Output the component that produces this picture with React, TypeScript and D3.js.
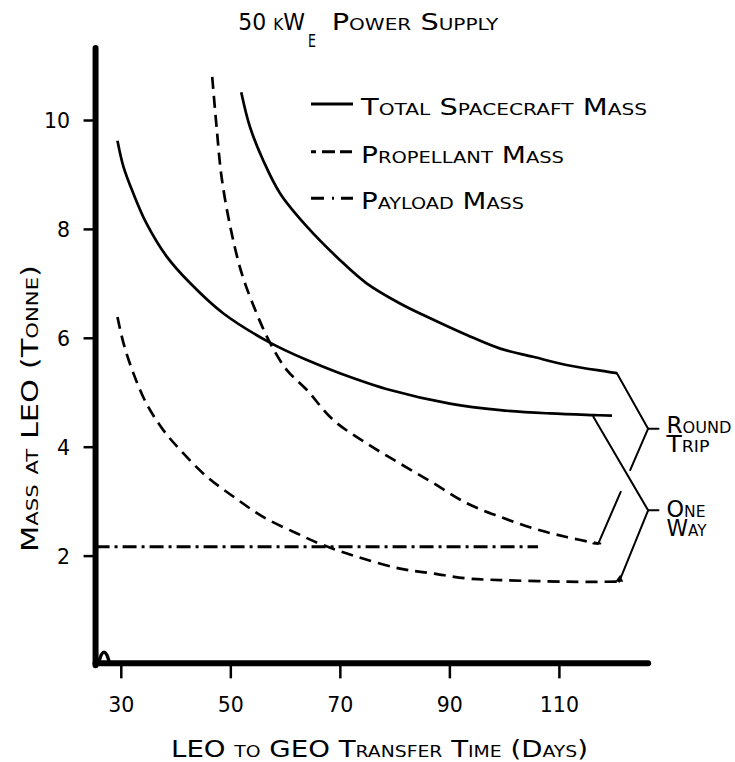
import { useRef, useEffect } from "react";
import * as d3 from "d3";

const W = 735;
const H = 762;

// one way trip (lower pair of curves)
const oneWayTotalDays = [29.3, 30.4, 32.2, 34.6, 38.3, 42.6, 48.6, 56.8, 63.9, 69.9, 79.1, 90.0, 99.2, 108.3, 116.2, 119.6];
const oneWayTotalMass = [9.63, 9.15, 8.66, 8.11, 7.5, 7.01, 6.46, 5.94, 5.6, 5.36, 5.05, 4.8, 4.68, 4.62, 4.59, 4.58];
const oneWayPropDays = [29.3, 30.4, 32.2, 34.6, 37.7, 41.3, 45.6, 50.5, 55.9, 62.0, 66.9, 73.0, 80.9, 87.0, 93.1, 99.2, 111.3, 121.1];
const oneWayPropMass = [6.39, 5.91, 5.36, 4.8, 4.31, 3.89, 3.46, 3.09, 2.72, 2.42, 2.2, 1.99, 1.77, 1.68, 1.59, 1.56, 1.53, 1.53];

// round trip
const roundTripTotalDays = [51.9, 53.5, 55.9, 59.0, 63.9, 69.9, 74.8, 80.9, 87.0, 93.1, 99.2, 105.2, 111.3, 120.5];
const roundTripTotalMass = [10.52, 9.88, 9.27, 8.66, 8.05, 7.44, 7.01, 6.64, 6.34, 6.06, 5.81, 5.66, 5.51, 5.36];
const roundTripPropDays = [46.6, 47.4, 48.3, 49.9, 52.0, 54.7, 57.2, 60.2, 63.9, 68.7, 74.8, 80.9, 87.0, 93.1, 99.2, 105.2, 111.3, 117.1];
const roundTripPropMass = [10.8, 9.88, 8.97, 8.05, 7.19, 6.46, 5.91, 5.42, 5.05, 4.5, 4.07, 3.7, 3.34, 2.97, 2.72, 2.51, 2.35, 2.23];

// payload (same for both)
const payloadDays = [25.3, 106.1];
const payloadMass = [2.17, 2.17];

const xTicks = [30, 50, 70, 90, 110];
const yTicks = [2, 4, 6, 8, 10];

const legendLabels = ["Total Spacecraft Mass", "Propellant Mass", "Payload Mass"];
const bracketLabels = [["Round", "Trip"], ["One", "Way"]];

export default function App() {
    const svgRef = useRef<SVGSVGElement>(null);

    useEffect(() => {
        const svg = d3.select(svgRef.current as SVGSVGElement);
        svg.selectAll("*").remove();

        const x = d3.scaleLinear().domain([30, 110]).range([121.3, 559.4]);
        const y = d3.scaleLinear().domain([0, 10]).range([665, 120.5]);
        const font = "'DejaVu Sans', sans-serif";

        const label = (s: string, px: number, py: number, size: number, len?: number, anchor = "start") => {
            const t = svg.append("text")
                .attr("x", px)
                .attr("y", py)
                .attr("font-family", font)
                .attr("font-size", size)
                .attr("text-anchor", anchor)
                .style("font-variant", "small-caps")
                .attr("fill", "#000")
                .text(s);
            if (len) t.attr("textLength", len).attr("lengthAdjust", "spacingAndGlyphs");
            return t;
        };

        // axes
        const ax = x(25.3);
        const ay = y(0.03);
        const top = y(11.33);
        const right = x(126.2);
        svg.append("line").attr("x1", ax).attr("x2", ax).attr("y1", top).attr("y2", ay + 2)
            .attr("stroke", "#000").attr("stroke-width", 6).attr("stroke-linecap", "round");
        svg.append("line").attr("x1", ax).attr("x2", right).attr("y1", ay).attr("y2", ay)
            .attr("stroke", "#000").attr("stroke-width", 6).attr("stroke-linecap", "round");
        // little wiggle near the origin
        svg.append("path")
            .attr("d", `M${ax + 3},${ay} Q${ax + 8.5},${ay - 22} ${ax + 14},${ay}`)
            .attr("fill", "none").attr("stroke", "#000").attr("stroke-width", 3.5);

        xTicks.forEach(v => {
            svg.append("line").attr("x1", x(v)).attr("x2", x(v)).attr("y1", ay).attr("y2", ay + 15)
                .attr("stroke", "#000").attr("stroke-width", 2.5);
            label(String(v), x(v), 711.5, 20.5, undefined, "middle");
        });
        yTicks.forEach(v => {
            svg.append("line").attr("x1", ax - 12).attr("x2", ax).attr("y1", y(v)).attr("y2", y(v))
                .attr("stroke", "#000").attr("stroke-width", 2.5);
            label(String(v), 70, y(v) + 7.5, 20.5, undefined, "end");
        });

        // axis titles
        label("LEO to GEO Transfer Time (Days)", 171, 756.7, 23.5, 417);
        label("Mass at LEO (Tonne)", 0, 0, 23, 287)
            .attr("transform", "translate(38.3,552) rotate(-90)");

        // title
        label("50 kW", 238.3, 30, 23, 66.7);
        label("E", 308, 46.7, 18.3, 8);
        label("Power Supply", 331.7, 30, 23, 166.6);

        // curves
        const line = d3.line<[number, number]>()
            .x(d => x(d[0]))
            .y(d => y(d[1]))
            .curve(d3.curveCatmullRom.alpha(0.5));
        const series: { days: number[]; mass: number[]; dash: string | null }[] = [
            { days: oneWayTotalDays, mass: oneWayTotalMass, dash: null },
            { days: roundTripTotalDays, mass: roundTripTotalMass, dash: null },
            { days: oneWayPropDays, mass: oneWayPropMass, dash: "12,7" },
            { days: roundTripPropDays, mass: roundTripPropMass, dash: "12,7" },
            { days: payloadDays, mass: payloadMass, dash: "14,5,3,5" },
        ];
        series.forEach(s => {
            const pts = s.days.map((d, i) => [d, s.mass[i]] as [number, number]);
            svg.append("path")
                .attr("d", line(pts) as string)
                .attr("fill", "none")
                .attr("stroke", "#000")
                .attr("stroke-width", s.dash === "14,5,3,5" ? 3 : 2.7)
                .attr("stroke-dasharray", s.dash);
        });

        // legend
        const legendY = [104, 151.7, 198.3];
        const legendDash = [null, "5,6,13,5,12", "13,8,2,7,12"];
        const legendLen = [286, 203, 163];
        legendLabels.forEach((s, i) => {
            svg.append("line").attr("x1", 311).attr("x2", 353).attr("y1", legendY[i]).attr("y2", legendY[i])
                .attr("stroke", "#000").attr("stroke-width", 3)
                .attr("stroke-dasharray", legendDash[i]);
            label(s, 361, legendY[i] + 11, 23, legendLen[i]);
        });

        // brackets
        const rtTop: [number, number] = [x(roundTripTotalDays[roundTripTotalDays.length - 1]), y(roundTripTotalMass[roundTripTotalMass.length - 1])];
        const rtV: [number, number] = [x(126.2), y(4.34)];
        const rtBot: [number, number] = [x(roundTripPropDays[roundTripPropDays.length - 1]), y(roundTripPropMass[roundTripPropMass.length - 1])];
        const owTop: [number, number] = [x(116.2), y(4.56)];
        const owV: [number, number] = [x(126.2), y(2.84)];
        const owBot: [number, number] = [x(oneWayPropDays[oneWayPropDays.length - 1]) - 1, y(oneWayPropMass[oneWayPropMass.length - 1])];
        const seg = (a: [number, number], b: [number, number]) =>
            svg.append("line").attr("x1", a[0]).attr("y1", a[1]).attr("x2", b[0]).attr("y2", b[1])
                .attr("stroke", "#000").attr("stroke-width", 2).attr("stroke-linecap", "round");
        const lerp = (a: [number, number], b: [number, number], t: number): [number, number] =>
            [a[0] + (b[0] - a[0]) * t, a[1] + (b[1] - a[1]) * t];

        seg(rtTop, rtV);
        seg(rtV, lerp(rtV, rtBot, 0.36));
        seg(lerp(rtV, rtBot, 0.55), rtBot);
        seg(rtV, [x(128.1), rtV[1]]);
        seg(owTop, owV);
        seg(owV, owBot);
        seg(owV, [x(128.1), owV[1]]);
        svg.append("path")
            .attr("d", `M${owBot[0] - 4},${owBot[1]} L${owBot[0] + 4},${owBot[1]} L${owBot[0] + 1},${owBot[1] - 7}Z`)
            .attr("fill", "#000");
        seg([rtBot[0] - 5, rtBot[1]], [rtBot[0] + 2, rtBot[1]]);

        // two-line bracket labels, one text element each
        const bracketY = [433.3, 516.7];
        const bracketLen = [[65, 43], [39, 40]];
        bracketLabels.forEach((lines, i) => {
            const t = svg.append("text")
                .attr("font-family", font)
                .attr("font-size", 23)
                .style("font-variant", "small-caps")
                .attr("fill", "#000");
            lines.forEach((s, j) => {
                t.append("tspan")
                    .attr("x", 666.5)
                    .attr("y", bracketY[i] + j * 19)
                    .attr("textLength", bracketLen[i][j])
                    .attr("lengthAdjust", "spacingAndGlyphs")
                    .text(s);
            });
        });
    }, []);

    return (
        <svg ref={svgRef} width={W} height={H}
            style={{ display: "block", position: "absolute", left: 0, top: 0, background: "#fff" }} />
    );
}
